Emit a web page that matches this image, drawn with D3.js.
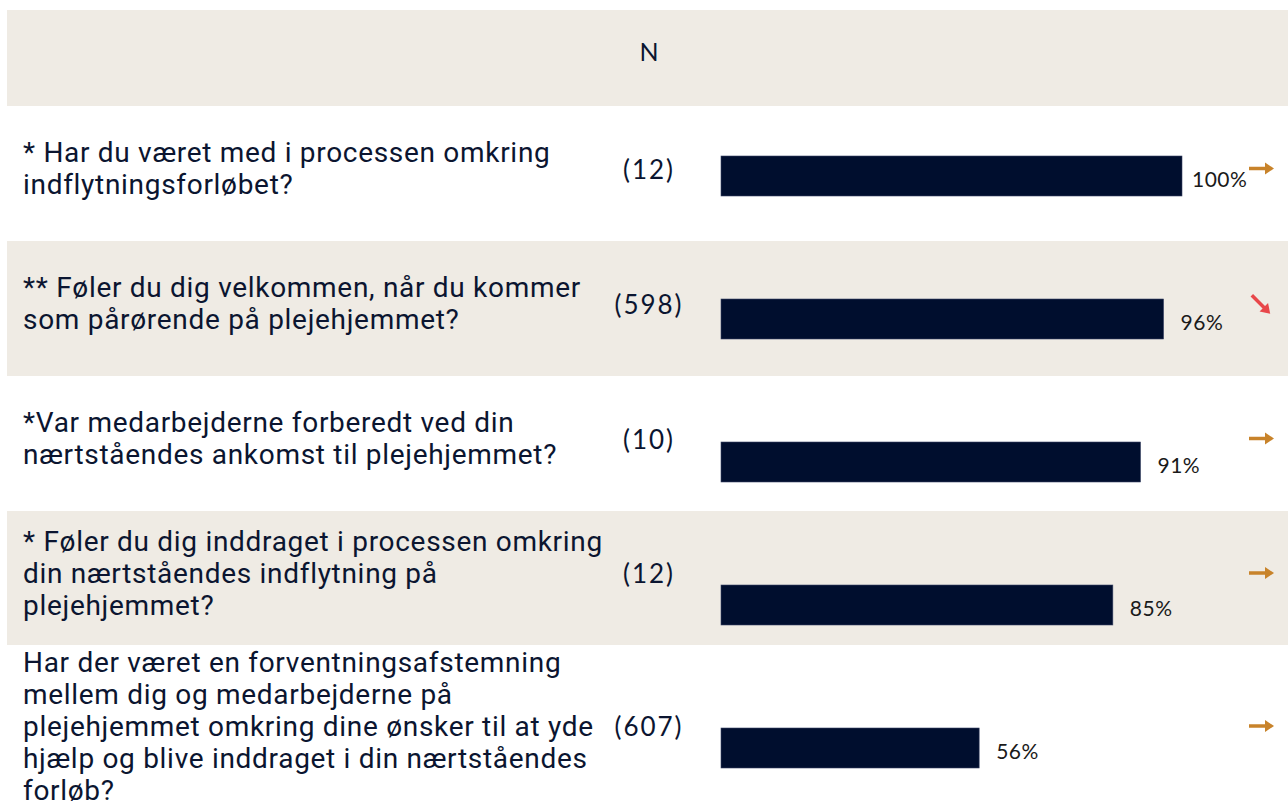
<!DOCTYPE html>
<html>
<head>
<meta charset="utf-8">
<script src="https://cdn.jsdelivr.net/npm/d3@7"></script>
<style>
  html, body { margin: 0; padding: 0; background: #ffffff; }
  svg { display: block; }
</style>
</head>
<body>
<svg id="chart" width="1288" height="801"></svg>
<script>
// ---- Data ----
const questions = [
  ["* Har du været med i processen omkring", "indflytningsforløbet?"],
  ["** Føler du dig velkommen, når du kommer", "som pårørende på plejehjemmet?"],
  ["*Var medarbejderne forberedt ved din", "nærtståendes ankomst til plejehjemmet?"],
  ["* Føler du dig inddraget i processen omkring", "din nærtståendes indflytning på", "plejehjemmet?"],
  ["Har der været en forventningsafstemning", "mellem dig og medarbejderne på", "plejehjemmet omkring dine ønsker til at yde", "hjælp og blive inddraget i din nærtståendes", "forløb?"]
];
const nValues = [12, 598, 10, 12, 607];
const percentages = [100, 96, 91, 85, 56];
const trends = ["flat", "down", "flat", "flat", "flat"];
const headerLabel = "N";

// ---- Layout ----
const W = 1288, H = 801;
const svg = d3.select("#chart");
const beige = "#EFEBE4";
const navy = "#000E2E";
const textNavy = "#0B1530";
const orange = "#C8832A";
const red = "#E8474A";

const rowTops = [106, 241, 376, 511, 645];
const rowBottoms = [241, 376, 511, 645, 801];
const idx = d3.range(questions.length);

// header band
svg.append("rect").attr("x", 7).attr("y", 10).attr("width", W - 7).attr("height", 96).attr("fill", beige);
svg.append("text").attr("x", 649).attr("y", 51).attr("text-anchor", "middle")
  .attr("dominant-baseline", "central")
  .attr("font-family", "Lato, 'Open Sans', sans-serif").attr("font-size", 25)
  .attr("fill", textNavy).text(headerLabel);

// row bands (alternate)
svg.selectAll("rect.band").data(idx.filter(i => i % 2 === 1)).join("rect")
  .attr("class", "band")
  .attr("x", 7).attr("y", i => rowTops[i])
  .attr("width", W - 7).attr("height", i => rowBottoms[i] - rowTops[i])
  .attr("fill", beige);

// text centers
const lineH = 32;
const textCenter = idx.map(i => {
  const top = rowTops[i], h = rowBottoms[i] - top;
  const blockH = questions[i].length * lineH;
  const c = top + h / 2 - 5;
  return Math.max(top + 1, c - blockH / 2) + blockH / 2;
});

// questions
idx.forEach(i => {
  const lines = questions[i];
  const start = textCenter[i] - (lines.length - 1) * lineH / 2;
  const t = svg.append("text")
    .attr("font-family", "Roboto, sans-serif").attr("font-size", 28)
    .attr("letter-spacing", 0.7)
    .attr("fill", textNavy);
  lines.forEach((l, k) => {
    t.append("tspan").attr("x", 23).attr("y", start + k * lineH)
      .attr("dominant-baseline", "central").text(l);
  });
});

// N values
svg.selectAll("text.n").data(idx).join("text")
  .attr("class", "n")
  .attr("x", 649).attr("y", i => textCenter[i])
  .attr("text-anchor", "middle").attr("dominant-baseline", "central")
  .attr("font-family", "Lato, 'Open Sans', sans-serif").attr("font-size", 26)
  .attr("letter-spacing", 2)
  .attr("fill", textNavy)
  .text(i => "(" + nValues[i] + ")");

// bars
const x = d3.scaleLinear().domain([0, 100]).range([721, 1182]);
const y = d3.scalePoint().domain(idx).range([176, 176 + 143 * 4]);
svg.selectAll("rect.bar").data(idx).join("rect")
  .attr("class", "bar")
  .attr("x", x(0)).attr("y", i => y(i) - 20)
  .attr("width", i => x(percentages[i]) - x(0)).attr("height", 40)
  .attr("fill", navy).attr("stroke", "#3a4566").attr("stroke-width", 0.6);

// value labels
svg.selectAll("text.val").data(idx).join("text")
  .attr("class", "val")
  .attr("x", i => Math.min(x(percentages[i]) + 17, 1192))
  .attr("y", i => y(i) + 2)
  .attr("dominant-baseline", "central")
  .attr("font-family", "Lato, 'Open Sans', sans-serif").attr("font-size", 21)
  .attr("letter-spacing", 0.5)
  .attr("fill", "#1a1a1a")
  .text(i => percentages[i] + "%");

// trend arrows
idx.forEach(i => {
  const cy = textCenter[i];
  const g = svg.append("g");
  if (trends[i] === "flat") {
    g.append("line").attr("x1", 1249).attr("x2", 1266).attr("y1", cy).attr("y2", cy)
      .attr("stroke", orange).attr("stroke-width", 3.5);
    g.append("path").attr("d", `M1265,${cy - 6} L1274,${cy} L1265,${cy + 6} Z`).attr("fill", orange);
  } else if (trends[i] === "down") {
    const cx = 1261;
    g.attr("transform", `translate(${cx},${cy + 1}) rotate(45)`);
    g.append("line").attr("x1", -13).attr("x2", 5).attr("y1", 0).attr("y2", 0)
      .attr("stroke", red).attr("stroke-width", 3.5);
    g.append("path").attr("d", "M4,-6 L13,0 L4,6 Z").attr("fill", red);
  } else {
    const cx = 1261;
    g.attr("transform", `translate(${cx},${cy}) rotate(-45)`);
    g.append("line").attr("x1", -13).attr("x2", 5).attr("y1", 0).attr("y2", 0)
      .attr("stroke", "#3a9a5a").attr("stroke-width", 3.5);
    g.append("path").attr("d", "M4,-6 L13,0 L4,6 Z").attr("fill", "#3a9a5a");
  }
});
</script>
</body>
</html>
